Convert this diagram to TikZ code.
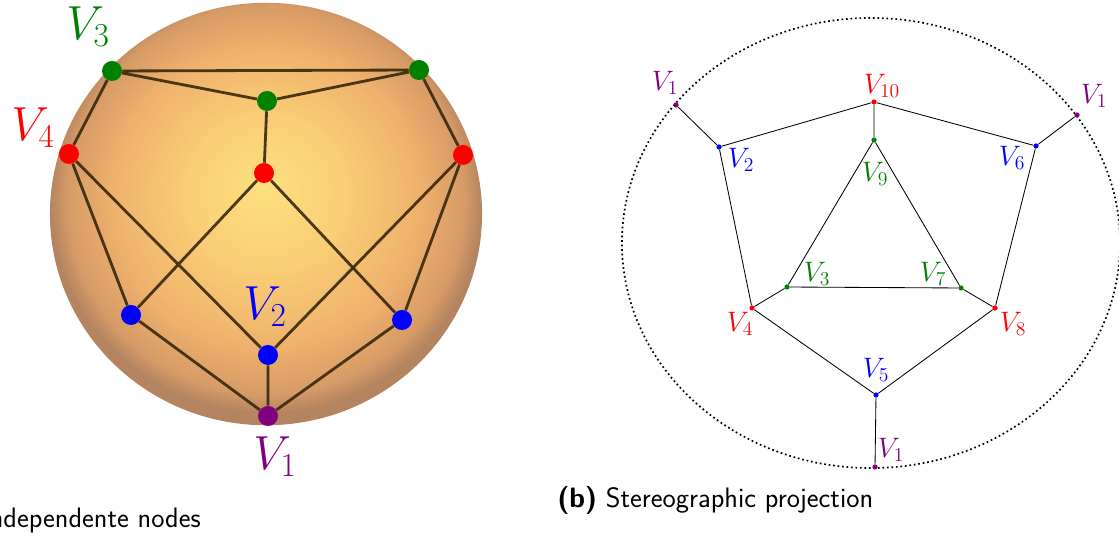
\RequirePackage{fix-cm}
\documentclass[tikz,border=0pt]{standalone}
\usepackage{tikz}
\usetikzlibrary{positioning}
\usepackage{xcolor}
\definecolor{vgreen}{RGB}{0,128,0}
\definecolor{vpurple}{RGB}{128,0,128}
\definecolor{sphcore}{RGB}{253,224,126}
\definecolor{sphlight}{RGB}{250,206,118}
\definecolor{sphmid}{RGB}{238,176,108}
\definecolor{sphout}{RGB}{214,154,102}
\definecolor{sphrim}{RGB}{180,132,96}
\definecolor{edgebrown}{RGB}{55,40,12}
\pgfdeclareradialshading{sphereshade}{\pgfpoint{0bp}{3bp}}{color(0bp)=(sphcore); color(9bp)=(sphlight); color(18bp)=(sphmid); color(23bp)=(sphout); color(25bp)=(sphrim); color(50bp)=(sphrim)}

\begin{document}
\begin{tikzpicture}[x=0.025cm,y=-0.025cm,
  bigdot/.style={circle,inner sep=0pt,minimum size=0.5cm},
  smalldot/.style={circle,inner sep=0pt,minimum size=0.13cm},
  sphedge/.style={line width=2pt,draw=edgebrown,draw opacity=0.9},
  planedge/.style={line width=0.6pt},
  bigname/.style={inner sep=0pt,font=\fontsize{34}{40}\selectfont},
  smallname/.style={inner sep=0pt,font=\fontsize{20}{24}\selectfont},
  caption/.style={inner sep=0pt,font=\fontsize{20}{24}\selectfont\sffamily}]
\useasboundingbox (0,0) rectangle (1119,536);
% sphere
\begin{scope}
  \shade[shading=sphereshade] (266,214) circle [x radius=5.4cm,y radius=5.28cm];
  \node[bigdot,fill=vgreen] (g1) at (112,71) {};
  \node[bigdot,fill=vgreen] (g2) at (419,70) {};
  \node[bigdot,fill=vgreen] (g3) at (267,101) {};
  \node[bigdot,fill=red] (r1) at (69,154) {};
  \node[bigdot,fill=red] (r2) at (264,173) {};
  \node[bigdot,fill=red] (r3) at (463,155) {};
  \node[bigdot,fill=blue] (b1) at (131,315) {};
  \node[bigdot,fill=blue] (b2) at (268,355) {};
  \node[bigdot,fill=blue] (b3) at (402,320) {};
  \node[bigdot,fill=vpurple] (p1) at (268,416) {};
  \draw[sphedge] (g1) -- (g2) (g1) -- (g3) (g2) -- (g3) (g3) -- (r2);
  \draw[sphedge] (g1) -- (r1) (g2) -- (r3);
  \draw[sphedge] (r1) -- (b1) (r1) -- (b2) (r2) -- (b1) (r2) -- (b3);
  \draw[sphedge] (r3) -- (b2) (r3) -- (b3);
  \draw[sphedge] (b1) -- (p1) (b2) -- (p1) (b3) -- (p1);
  \node[bigname,text=vgreen] (lg1) at (88,27) {$V_3$};
  \node[bigname,text=red] (lr1) at (33,128) {$V_4$};
  \node[bigname,text=blue] (lb2) at (265,307) {$V_2$};
  \node[bigname,text=vpurple] (lp1) at (275,457) {$V_1$};
  \node[caption,anchor=east] (capa) at (201,520) {ndependente nodes};
\end{scope}
% stereographic projection
\begin{scope}
  \draw[dotted,line width=1.2pt] (871,243) ellipse [x radius=6.225cm,y radius=5.625cm];
  \node[smalldot,fill=vpurple] (w1a) at (676,105) {};
  \node[smalldot,fill=vpurple] (w1b) at (1077,115) {};
  \node[smalldot,fill=vpurple] (w1c) at (875,467) {};
  \node[smalldot,fill=blue] (w2) at (719,147) {};
  \node[smalldot,fill=vgreen] (w3) at (787,287) {};
  \node[smalldot,fill=red] (w4) at (752,308) {};
  \node[smalldot,fill=blue] (w5) at (876,395) {};
  \node[smalldot,fill=blue] (w6) at (1036,146) {};
  \node[smalldot,fill=vgreen] (w7) at (961,288) {};
  \node[smalldot,fill=red] (w8) at (995,308) {};
  \node[smalldot,fill=vgreen] (w9) at (874,140) {};
  \node[smalldot,fill=red] (w10) at (874,102) {};
  \draw[planedge] (w1a) -- (w2) -- (w10) -- (w6) -- (w1b);
  \draw[planedge] (w10) -- (w9) -- (w3) -- (w7) -- (w9);
  \draw[planedge] (w2) -- (w4) -- (w5) -- (w8) -- (w6);
  \draw[planedge] (w4) -- (w3) (w8) -- (w7) (w5) -- (w1c);
  \node[smallname,text=vpurple] (lw1a) at (665,83) {$V_1$};
  \node[smallname,text=vpurple] (lw1b) at (1094,96) {$V_1$};
  \node[smallname,text=vpurple] (lw1c) at (891,450) {$V_1$};
  \node[smallname,text=blue] (lw2) at (741,160) {$V_2$};
  \node[smallname,text=vgreen] (lw3) at (817,274) {$V_3$};
  \node[smallname,text=red] (lw4) at (740,324) {$V_4$};
  \node[smallname,text=blue] (lw5) at (876,370) {$V_5$};
  \node[smallname,text=blue] (lw6) at (1012,158) {$V_6$};
  \node[smallname,text=vgreen] (lw7) at (933,274) {$V_7$};
  \node[smallname,text=red] (lw8) at (1013,324) {$V_8$};
  \node[smallname,text=vgreen] (lw9) at (875,174) {$V_9$};
  \node[smallname,text=red] (lw10) at (882,86) {$V_{10}$};
  \node[caption,anchor=west] (capb) at (557,500) {{\bfseries (b)} Stereographic projection};
\end{scope}
\end{tikzpicture}
\end{document}
